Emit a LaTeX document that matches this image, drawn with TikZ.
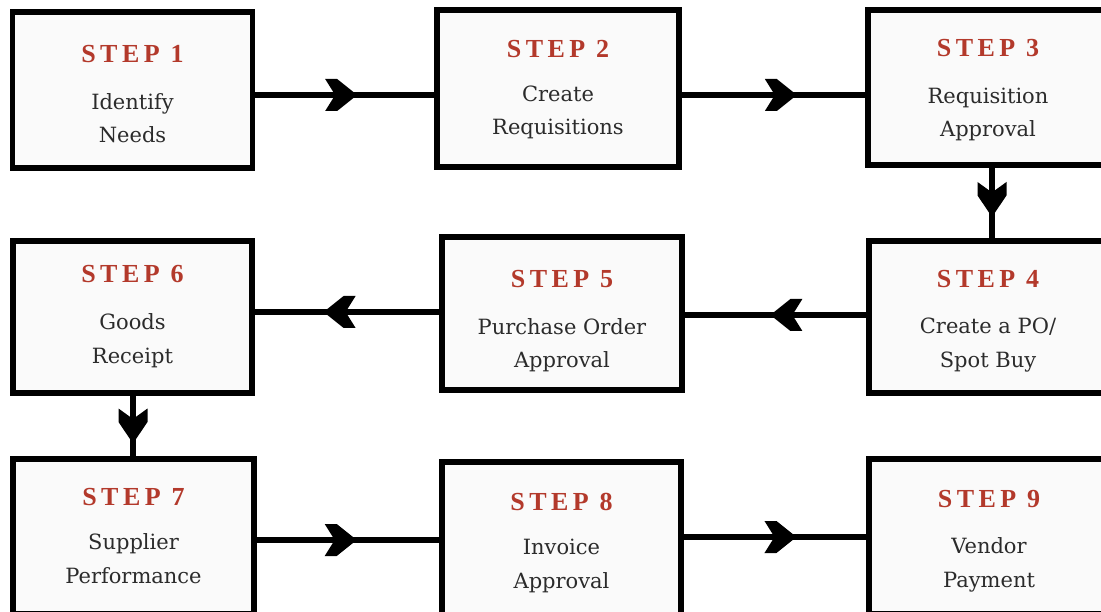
\documentclass[tikz,border=0pt]{standalone}
\usepackage{fontspec}
\setmainfont{DejaVu Serif}
\newfontfamily\stepfont[LetterSpace=17]{Liberation Serif}
\usetikzlibrary{calc}
\definecolor{stepred}{HTML}{B3392B}
\definecolor{bodytxt}{HTML}{2B2B2B}
\definecolor{boxfill}{HTML}{FAFAFA}
\tikzset{
  box/.style={draw=black, line width=5.5pt, fill=boxfill, inner sep=0pt},
  steptxt/.style={anchor=base, inner sep=0pt, text=stepred, font=\stepfont\bfseries\fontsize{26}{28}\selectfont},
  bodytext/.style={anchor=base, inner sep=0pt, text=bodytxt, align=center, font=\fontsize{21}{33.5}\selectfont},
  conn/.style={line width=6.5pt, black},
  pics/chevh/.style={code={\fill[black] (-16,-16) -- (-4,-16) -- (16,0) -- (-4,16) -- (-16,16) -- (-6,0) -- cycle;}},
  pics/chevv/.style={code={\fill[black] (-17.5,-14.5) -- (-4,-14.5) -- (17.5,0) -- (-4,14.5) -- (-17.5,14.5) -- (-7,0) -- cycle;}}
}
\begin{document}
\begin{tikzpicture}[x=1pt,y=-1pt]
\useasboundingbox (0,0) rectangle (1101,612);
\fill[white] (0,0) rectangle (1101,612);
\clip (0,0) rectangle (1101,612);
% boxes
\node[box, minimum width=240pt, minimum height=156pt] (b1) at (132.5,90) {};
\node[box, minimum width=242pt, minimum height=157pt] (b2) at (558,88.5) {};
\node[box, minimum width=240pt, minimum height=155pt] (b3) at (988,87.5) {};
\node[box, minimum width=240pt, minimum height=152pt] (b4) at (989,317) {};
\node[box, minimum width=240pt, minimum height=153pt] (b5) at (562,313.5) {};
\node[box, minimum width=239pt, minimum height=152pt] (b6) at (132.5,317) {};
\node[box, minimum width=241pt, minimum height=155pt] (b7) at (133.5,536.5) {};
\node[box, minimum width=239pt, minimum height=155pt] (b8) at (561.5,539.5) {};
\node[box, minimum width=240pt, minimum height=155pt] (b9) at (989,536.5) {};
% texts (multi-line nodes are anchored at the baseline of their last line)
\node[steptxt] (s1) at (132.5,63) {STEP 1};
\node[bodytext] (t1) at (132.5,143) {Identify\\Needs};
\node[steptxt] (s2) at (558,58) {STEP 2};
\node[bodytext] (t2) at (558,135) {Create\\Requisitions};
\node[steptxt] (s3) at (988,57) {STEP 3};
\node[bodytext] (t3) at (988,137) {Requisition\\Approval};
\node[steptxt] (s4) at (988,288) {STEP 4};
\node[bodytext] (t4) at (988,367) {Create a PO/\\Spot Buy};
\node[steptxt] (s5) at (562,288) {STEP 5};
\node[bodytext] (t5) at (562,368) {Purchase Order\\Approval};
\node[steptxt] (s6) at (132.5,283) {STEP 6};
\node[bodytext] (t6) at (132.5,363) {Goods\\Receipt};
\node[steptxt] (s7) at (133.5,505) {STEP 7};
\node[bodytext] (t7) at (133.5,583) {Supplier\\Performance};
\node[steptxt] (s8) at (561.5,510) {STEP 8};
\node[bodytext] (t8) at (561.5,588) {Invoice\\Approval};
\node[steptxt] (s9) at (989,507) {STEP 9};
\node[bodytext] (t9) at (989,587) {Vendor\\Payment};
% connectors
\draw[conn] ([yshift=-5pt]b1.east) -- coordinate[pos=0.48] (m12) ([yshift=-5pt]b1.east -| b2.west);
\draw[conn] ([yshift=-6.5pt]b2.east) -- coordinate[pos=0.54] (m23) ([yshift=-6.5pt]b2.east -| b3.west);
\draw[conn] ([xshift=4pt]b3.south) -- coordinate[pos=0.45] (m34) ([xshift=4pt]b3.south |- b4.north);
\draw[conn] ([yshift=2pt]b4.west) -- coordinate[pos=0.44] (m45) ([yshift=2pt]b4.west -| b5.east);
\draw[conn] ([yshift=1.5pt]b5.west) -- coordinate[pos=0.54] (m56) ([yshift=1.5pt]b5.west -| b6.east);
\draw[conn] ([xshift=0.5pt]b6.south) -- coordinate[pos=0.5] (m67) ([xshift=0.5pt]b6.south |- b7.north);
\draw[conn] ([yshift=-3.5pt]b7.east) -- coordinate[pos=0.46] (m78) ([yshift=-3.5pt]b7.east -| b8.west);
\draw[conn] ([yshift=2.5pt]b8.east) -- coordinate[pos=0.53] (m89) ([yshift=2.5pt]b8.east -| b9.west);
% arrowheads
\pic at (m12) {chevh};
\pic at (m23) {chevh};
\pic[rotate=-90] at (m34) {chevv};
\pic[rotate=180] at (m45) {chevh};
\pic[rotate=180] at (m56) {chevh};
\pic[rotate=-90] at (m67) {chevv};
\pic at (m78) {chevh};
\pic at (m89) {chevh};
\end{tikzpicture}
\end{document}
